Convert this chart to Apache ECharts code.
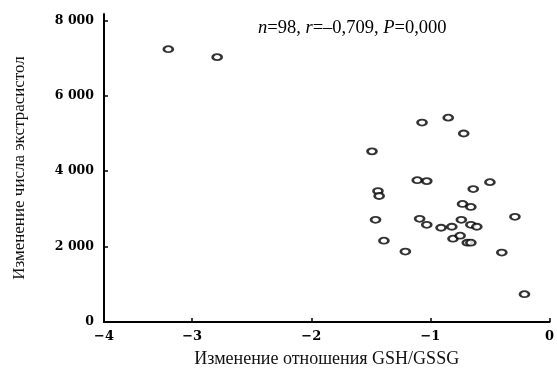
<!DOCTYPE html>
<html>
<head>
<meta charset="utf-8">
<script src="https://cdn.jsdelivr.net/npm/echarts@6/dist/echarts.min.js"></script>
<style>
  html, body { margin: 0; padding: 0; background: #fff; }
  #main { width: 557px; height: 373px; }
</style>
</head>
<body>
<div id="main"></div>
<script>
// изменение отношения GSH/GSSG
var gshChange = [-3.20, -2.79, -1.07, -0.85, -0.72, -1.49, -1.11, -1.03, -0.50, -0.64,
  -1.44, -1.43, -0.73, -0.66, -1.46, -1.09, -1.03, -0.91, -0.82, -0.74,
  -0.66, -0.61, -0.29, -1.39, -1.21, -0.81, -0.75, -0.69, -0.66, -0.40, -0.21];
// изменение числа экстрасистол
var extraChange = [7237, 7026, 5290, 5421, 5000, 4526, 3763, 3737, 3710, 3526,
  3474, 3342, 3131, 3053, 2710, 2737, 2579, 2500, 2526, 2710,
  2579, 2526, 2790, 2158, 1868, 2210, 2290, 2105, 2105, 1842, 737];

var xTicks = [-3.74, -3, -2, -1, 0];
var xTickLabels = ['\u22124', '\u22123', '\u22122', '\u22121', '0'];
var yTicks = [0, 2000, 4000, 6000, 8000];
var yTickLabels = ['0', '2 000', '4 000', '6 000', '8 000'];

var points = gshChange.map(function (x, i) { return [x, extraChange[i]]; });

var chart = echarts.init(document.getElementById('main'));
var font = '"Liberation Serif", "Times New Roman", serif';
var tickFont = '"DejaVu Serif", serif';

var option = {
  animation: false,
  backgroundColor: '#fff',
  grid: { left: 104, right: 2, top: 14, bottom: 49 },
  xAxis: {
    type: 'value',
    min: -3.74,
    max: 0,
    name: 'Изменение отношения GSH/GSSG',
    nameLocation: 'middle',
    nameGap: 28,
    nameTextStyle: { color: '#111', fontFamily: font, fontSize: 18 },
    axisLine: { show: true, onZero: false, lineStyle: { color: '#000', width: 2 } },
    axisTick: { show: true, inside: true, length: 4, customValues: xTicks, lineStyle: { color: '#000', width: 1.5 } },
    axisLabel: {
      customValues: xTicks,
      margin: 8,
      color: '#000',
      fontFamily: tickFont,
      fontWeight: 'bold',
      fontSize: 13,
      formatter: function (v) {
        var i = xTicks.indexOf(v);
        return i >= 0 ? xTickLabels[i] : '';
      }
    },
    splitLine: { show: false }
  },
  yAxis: {
    type: 'value',
    min: 0,
    max: 8170,
    name: 'Изменение числа экстрасистол',
    nameLocation: 'middle',
    nameGap: 76,
    nameTextStyle: { color: '#111', fontFamily: font, fontSize: 17 },
    axisLine: { show: true, onZero: false, lineStyle: { color: '#000', width: 2 } },
    axisTick: { show: true, inside: true, length: 4, customValues: yTicks, lineStyle: { color: '#000', width: 1.5 } },
    axisLabel: {
      customValues: yTicks,
      margin: 10,
      color: '#000',
      fontFamily: tickFont,
      fontWeight: 'bold',
      fontSize: 12.5,
      formatter: function (v) {
        var i = yTicks.indexOf(v);
        return i >= 0 ? yTickLabels[i] : '';
      }
    },
    splitLine: { show: false }
  },
  graphic: [{
    type: 'text',
    left: 258,
    top: 19,
    style: {
      text: '{i|n}=98, {i|r}=\u20130,709, {i|P}=0,000',
      fontFamily: font,
      fontSize: 18.5,
      fill: '#000',
      rich: {
        i: { fontFamily: font, fontSize: 18.5, fontStyle: 'italic', fill: '#000' }
      }
    }
  }],
  series: [{
    type: 'scatter',
    data: points,
    symbol: 'circle',
    symbolSize: [9, 6],
    itemStyle: { color: '#fff', borderColor: '#000', borderWidth: 2.2 }
  }]
};

chart.setOption(option);
</script>
</body>
</html>
